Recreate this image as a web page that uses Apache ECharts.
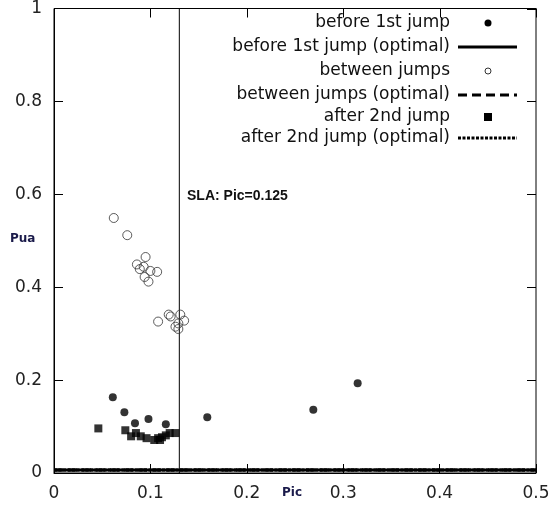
<!DOCTYPE html>
<html><head><meta charset="utf-8">
<script src="https://cdn.jsdelivr.net/npm/echarts@6/dist/echarts.min.js"></script>
<style>html,body{margin:0;padding:0;background:#fff}#c{width:554px;height:508px}</style>
</head><body><div id="c"></div>
<script>
// Data (Pic, Pua)
const beforeFirstJump = [[0.061,0.163],[0.073,0.131],[0.084,0.107],[0.098,0.116],[0.116,0.105],[0.159,0.120],[0.269,0.136],[0.315,0.193]];
const betweenJumps = [[0.062,0.549],[0.076,0.512],[0.095,0.465],[0.086,0.449],[0.089,0.439],[0.093,0.444],[0.100,0.435],[0.107,0.433],[0.094,0.422],[0.098,0.412],[0.108,0.326],[0.119,0.341],[0.121,0.337],[0.131,0.341],[0.135,0.328],[0.129,0.322],[0.126,0.315],[0.129,0.310]];
const afterSecondJump = [[0.046,0.096],[0.074,0.092],[0.080,0.079],[0.085,0.086],[0.090,0.079],[0.096,0.075],[0.104,0.071],[0.108,0.075],[0.110,0.071],[0.112,0.077],[0.116,0.081],[0.120,0.086],[0.126,0.086]];
const optimalBefore = [[0,0.0065],[0.5,0.0065]];
const optimalBetween = [[0,0.0065],[0.5,0.0065]];
const optimalAfter = [[0,0.0065],[0.5,0.0065]];
const slaPic = 0.13;
const slaLine = [[slaPic,0],[slaPic,1]];
const xTicks = [0,0.1,0.2,0.3,0.4,0.5];
const yTicks = [0,0.2,0.4,0.6,0.8,1];
const seriesNames = ['before 1st jump','before 1st jump (optimal)','between jumps','between jumps (optimal)','after 2nd jump','after 2nd jump (optimal)'];

const chart = echarts.init(document.getElementById('c'), null, {renderer:'canvas'});
const font = 'DejaVu Sans';
function axis(extra){
  return Object.assign({
    min:0, axisLine:{show:true,onZero:false,lineStyle:{color:'#000',width:1}},
    axisTick:{show:true,inside:true,length:9,lineStyle:{color:'#000',width:1}},
    splitLine:{show:false}
  }, extra);
}
// legend drawn as graphic rows (text right-aligned, sample to the right)
const legendY = [23,47,71,95,117,138];
const legendGraphic = [];
seriesNames.forEach((n,i)=>{
  legendGraphic.push({type:'text',x:450,y:legendY[i],silent:true,
    style:{text:n,align:'right',verticalAlign:'middle',font:'17px "DejaVu Sans"',fill:'#111'}});
});
legendGraphic.push({type:'circle',shape:{cx:488,cy:legendY[0],r:3.5},style:{fill:'#000'},silent:true});
legendGraphic.push({type:'line',shape:{x1:458,y1:legendY[1],x2:517,y2:legendY[1]},style:{stroke:'#000',lineWidth:3},silent:true});
legendGraphic.push({type:'circle',shape:{cx:488,cy:legendY[2],r:3},style:{fill:'#fff',stroke:'#333',lineWidth:1},silent:true});
legendGraphic.push({type:'line',shape:{x1:458,y1:legendY[3],x2:517,y2:legendY[3]},style:{stroke:'#000',lineWidth:3,lineDash:[9,5]},silent:true});
legendGraphic.push({type:'rect',shape:{x:484,y:legendY[4]-4,width:8,height:8},style:{fill:'#000'},silent:true});
legendGraphic.push({type:'line',shape:{x1:458,y1:legendY[5],x2:517,y2:legendY[5]},style:{stroke:'#000',lineWidth:3,lineDash:[3,1.5]},silent:true});

const baseGraphic = [
  {type:'text',left:187,top:189,style:{text:'SLA: Pic=0.125',font:'bold 14px "Liberation Sans"',fill:'#111'}},
  {type:'text',left:10,top:233,style:{text:'Pua',font:'bold 12px "DejaVu Sans"',fill:'#1a1a4a'}},
  {type:'text',left:282,top:487,style:{text:'Pic',font:'bold 12px "DejaVu Sans"',fill:'#1a1a4a'}}
].concat(legendGraphic);

chart.setOption({
  animation:false,
  grid:{left:54,right:18,top:7,bottom:35,show:true,borderColor:'#000',borderWidth:1,backgroundColor:'transparent'},
  xAxis:[
    axis({type:'value',max:0.5,interval:0.1,position:'bottom',
      axisLabel:{fontFamily:font,fontSize:17,color:'#222',margin:12,
        formatter:v=>xTicks.includes(+v.toFixed(1))?String(+v.toFixed(1)):''}})
  ],
  yAxis:[
    axis({type:'value',max:1,interval:0.2,position:'left',
      axisLabel:{fontFamily:font,fontSize:17,color:'#222',margin:12,
        formatter:v=>yTicks.includes(+v.toFixed(1))?String(+v.toFixed(1)):''}})
  ],
  graphic: baseGraphic,
  series:[
    {name:seriesNames[5],type:'line',data:optimalAfter,symbol:'none',lineStyle:{color:'#000',width:3,type:[3,1.5]},z:2},
    {name:seriesNames[3],type:'line',data:optimalBetween,symbol:'none',lineStyle:{color:'#000',width:3,type:[9,5]},z:2},
    {name:seriesNames[1],type:'line',data:optimalBefore,symbol:'none',lineStyle:{color:'#000',width:3,type:'solid',dashOffset:0},z:8},
    {name:'SLA',type:'line',data:slaLine,symbol:'none',lineStyle:{color:'#000',width:1},silent:true,z:2},
    {name:seriesNames[0],type:'scatter',data:beforeFirstJump,symbol:'circle',symbolSize:8,itemStyle:{color:'#000'},z:9},
    {name:seriesNames[2],type:'scatter',data:betweenJumps,symbol:'circle',symbolSize:9,itemStyle:{color:'rgba(0,0,0,0)',borderColor:'#333',borderWidth:1},z:9},
    {name:seriesNames[4],type:'scatter',data:afterSecondJump,symbol:'rect',symbolSize:8,itemStyle:{color:'#000'},z:9}
  ]
});

// mirrored inward ticks on the top and right edges, positioned via the chart's own scales
const mirrorTicks = [];
xTicks.forEach(v=>{
  const p = chart.convertToPixel({gridIndex:0},[v,1]);
  if (p) mirrorTicks.push({type:'line',silent:true,shape:{x1:Math.round(p[0])+0.5,y1:p[1],x2:Math.round(p[0])+0.5,y2:p[1]+9},style:{stroke:'#000',lineWidth:1}});
});
yTicks.forEach(v=>{
  const p = chart.convertToPixel({gridIndex:0},[0.5,v]);
  if (p) mirrorTicks.push({type:'line',silent:true,shape:{x1:p[0],y1:Math.round(p[1])+0.5,x2:p[0]-9,y2:Math.round(p[1])+0.5},style:{stroke:'#000',lineWidth:1}});
});
chart.setOption({graphic: baseGraphic.concat(mirrorTicks)});
</script></body></html>
